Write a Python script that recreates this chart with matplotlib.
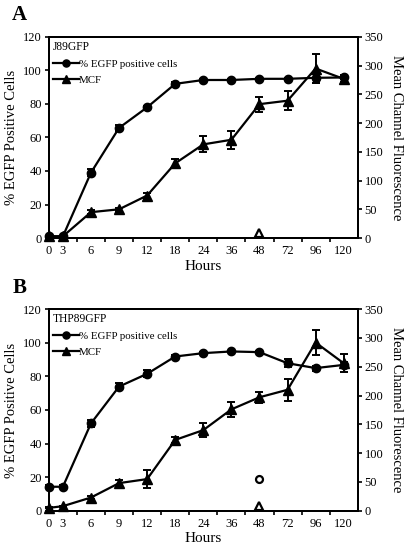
import numpy as np
import matplotlib
matplotlib.use("Agg")
import matplotlib.pyplot as plt
from matplotlib.ticker import FixedLocator

plt.rcParams['font.family'] = ['Liberation Serif', 'DejaVu Serif']

hours = ["0", "3", "6", "9", "12", "18", "24", "36", "48", "72", "96", "120"]
xpos = [0, 0.5, 1.5, 2.5, 3.5, 4.5, 5.5, 6.5, 7.5, 8.5, 9.5, 10.5]
series_names = ["% EGFP positive cells", "MCF"]

# panel A - J89GFP
a_egfp = [1, 1, 39, 65.7, 78, 92, 94.3, 94.3, 95, 95, 95.6, 95.8]
a_egfp_err = [0, 0, 2, 2, 1, 1, 0.5, 0.5, 0.5, 0.5, 3, 1]
a_mcf = [3, 3, 45, 50, 74, 130, 163, 171, 233, 239, 295, 277]
a_mcf_err = [0, 0, 3, 3, 4, 8, 14, 16, 13, 17, 26, 6]
a_ctrl_egfp = None
a_ctrl_mcf = 8

# panel B - THP89GFP
b_egfp = [14.3, 14.3, 52, 73.9, 81.5, 91.8, 93.8, 94.8, 94.4, 87.8, 84.9, 86.8]
b_egfp_err = [1, 1, 2, 2, 2, 1, 0.5, 0.5, 0.5, 2.4, 1.5, 1.5]
b_mcf = [5, 8, 23, 48, 55, 123, 140, 176, 197, 210, 292, 256]
b_mcf_err = [1, 1, 2, 5, 15, 5, 12, 13, 10, 19, 21, 16]
b_ctrl_egfp = 18.9
b_ctrl_mcf = 9

ctrl_pos = xpos[hours.index("48")]


def panel(fig, rect, letter, title, egfp, egfp_err, mcf, mcf_err,
          ctrl_egfp, ctrl_mcf):
    ax = fig.add_axes(rect)
    ax2 = ax.twinx()
    lw = 1.6
    l1 = ax.errorbar(xpos, egfp, yerr=egfp_err, color='black', lw=lw,
                     marker='o', ms=6, capsize=3, capthick=1.4,
                     elinewidth=1.4, clip_on=False, zorder=3)
    l2 = ax2.errorbar(xpos, mcf, yerr=mcf_err, color='black', lw=lw,
                      marker='^', ms=6.5, capsize=3, capthick=1.4,
                      elinewidth=1.4, clip_on=False, zorder=3)
    if ctrl_egfp is not None:
        ax.plot([ctrl_pos], [ctrl_egfp], ls='none', marker='o', ms=5,
                mfc='white', mec='black', mew=1.6)
    if ctrl_mcf is not None:
        ax2.plot([ctrl_pos], [ctrl_mcf], ls='none', marker='^', ms=5.5,
                 mfc='white', mec='black', mew=1.6)

    ax.set_xlim(0, 11)
    ax.set_ylim(0, 120)
    ax2.set_ylim(0, 350)
    ax.set_yticks(np.arange(0, 121, 20))
    ax2.set_yticks(np.arange(0, 351, 50))
    ax.set_xticks(xpos)
    ax.set_xticklabels(hours)
    ax.xaxis.set_minor_locator(FixedLocator(range(1, 11)))
    ax.tick_params(axis='x', which='major', length=0, labelsize=9, pad=5)
    ax.tick_params(axis='x', which='minor', length=3, width=1.2,
                   direction='out')
    ax.tick_params(axis='y', length=3, width=1.2, labelsize=9, pad=2)
    ax2.tick_params(axis='y', length=3, width=1.2, labelsize=9, pad=2)
    for a in (ax, ax2):
        for s in a.spines.values():
            s.set_linewidth(1.4)
    ax.set_xlabel("Hours", fontsize=11, labelpad=2)
    ax.set_ylabel("% EGFP Positive Cells", fontsize=10.5, labelpad=4)
    ax2.set_ylabel("Mean Channel Fluorescence", fontsize=10.5, rotation=270,
                   labelpad=14)

    leg = ax2.legend([l1[0], l2[0]], series_names, loc='upper left',
                     title=title, alignment='left', frameon=False,
                     fontsize=7.8, title_fontsize=8.3, borderpad=0.35,
                     borderaxespad=0, handlelength=2.4, handletextpad=0,
                     labelspacing=0.6, markerscale=0.85)
    leg._legend_box.align = 'left'

    fig.text(rect[0] - 0.09, rect[1] + rect[3] + 0.03, letter,
             fontsize=15, fontweight='bold')
    return ax


fig = plt.figure(figsize=(4.07, 5.51), dpi=100)
panel(fig, [0.120, 0.568, 0.759, 0.365], "A", "J89GFP",
      a_egfp, a_egfp_err, a_mcf, a_mcf_err, a_ctrl_egfp, a_ctrl_mcf)
panel(fig, [0.120, 0.073, 0.759, 0.366], "B", "THP89GFP",
      b_egfp, b_egfp_err, b_mcf, b_mcf_err, b_ctrl_egfp, b_ctrl_mcf)

fig.savefig("out.png", dpi=100)
